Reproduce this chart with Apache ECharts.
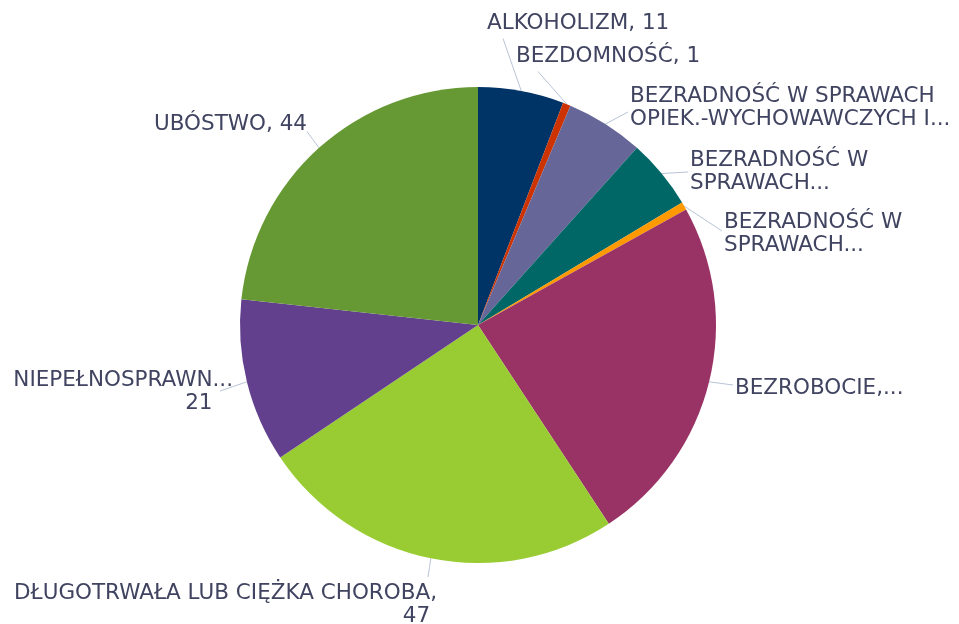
<!DOCTYPE html>
<html>
<head>
<meta charset="utf-8">
<script src="https://cdn.jsdelivr.net/npm/echarts@6/dist/echarts.min.js"></script>
<style>
html,body{margin:0;padding:0;background:#fff;}
#chart{width:959px;height:624px;}
</style>
</head>
<body>
<div id="chart"></div>
<script>
// ---- data ----
var categories = [
  'ALKOHOLIZM',
  'BEZDOMNOŚĆ',
  'BEZRADNOŚĆ W SPRAWACH OPIEK.-WYCHOWAWCZYCH I...',
  'BEZRADNOŚĆ W SPRAWACH... (1)',
  'BEZRADNOŚĆ W SPRAWACH... (2)',
  'BEZROBOCIE',
  'DŁUGOTRWAŁA LUB CIĘŻKA CHOROBA',
  'NIEPEŁNOSPRAWNOŚĆ',
  'UBÓSTWO'
];
var values = [11, 1, 10, 9, 1, 45, 47, 21, 44];
var labelTexts = [
  'ALKOHOLIZM, 11',
  'BEZDOMNOŚĆ, 1',
  'BEZRADNOŚĆ W SPRAWACH\nOPIEK.-WYCHOWAWCZYCH I...',
  'BEZRADNOŚĆ W\nSPRAWACH...',
  'BEZRADNOŚĆ W\nSPRAWACH...',
  'BEZROBOCIE,...',
  'DŁUGOTRWAŁA LUB CIĘŻKA CHOROBA,\n47\u00a0',
  'NIEPEŁNOSPRAWN...\n21\u00a0\u00a0\u00a0',
  'UBÓSTWO, 44'
];
var colors = ['#003366', '#CC3300', '#666699', '#006666', '#FF9900', '#993366', '#99CC33', '#62408E', '#669933'];

// ---- label layout (text anchor + leader-line end relative to label box) ----
var labelAnchor = [
  {x: 487, y: 23, align: 'left'},
  {x: 516, y: 56, align: 'left'},
  {x: 630, y: 108, align: 'left'},
  {x: 690, y: 172, align: 'left'},
  {x: 724, y: 234, align: 'left'},
  {x: 735, y: 388, align: 'left'},
  {x: 437, y: 605, align: 'right'},
  {x: 233, y: 392, align: 'right'},
  {x: 307, y: 124, align: 'right'}
];
// [fraction x, fraction y, dx, dy] on the label box
var lineEnd = [
  [0, 1, 16, 4],
  [0, 1, 22, 4],
  [0, 0.5, -2, 4],
  [0, 0.5, -2, 0],
  [0, 0.5, -2, -3],
  [0, 0.5, -2, -3],
  [1, 0, -9, -5],
  [1, 0.5, -13, -1],
  [1, 1, 0, -4]
];

var chart = echarts.init(document.getElementById('chart'), null, {renderer: 'canvas'});
var pieData = categories.map(function (c, i) {
  return {name: c, value: values[i], itemStyle: {color: colors[i]}};
});

chart.setOption({
  backgroundColor: '#ffffff',
  animation: false,
  series: [{
    type: 'pie',
    center: [478, 325],
    radius: 238,
    startAngle: 90,
    clockwise: true,
    avoidLabelOverlap: false,
    data: pieData,
    itemStyle: {borderWidth: 0},
    emphasis: {disabled: true},
    label: {
      show: true,
      position: 'outside',
      formatter: function (p) { return labelTexts[p.dataIndex]; },
      fontFamily: 'DejaVu Sans',
      fontSize: 21.5,
      lineHeight: 23,
      color: '#404460'
    },
    labelLine: {
      show: true,
      length: 15,
      length2: 5,
      lineStyle: {color: '#b8c4d6', width: 1}
    },
    labelLayout: function (params) {
      var i = params.dataIndex;
      var a = labelAnchor[i];
      var w = params.labelRect.width, h = params.labelRect.height;
      var x0 = a.align === 'left' ? a.x : a.x - w;
      var y0 = a.y - h / 2;
      var e = lineEnd[i];
      var end = [x0 + e[0] * w + e[2], y0 + e[1] * h + e[3]];
      var res = {x: a.x, y: a.y, align: a.align, verticalAlign: 'middle'};
      if (params.labelLinePoints && params.labelLinePoints.length) {
        var p0 = params.labelLinePoints[0];
        res.labelLinePoints = [p0, [(p0[0] + end[0]) / 2, (p0[1] + end[1]) / 2], end];
      }
      return res;
    }
  }]
});
</script>
</body>
</html>
